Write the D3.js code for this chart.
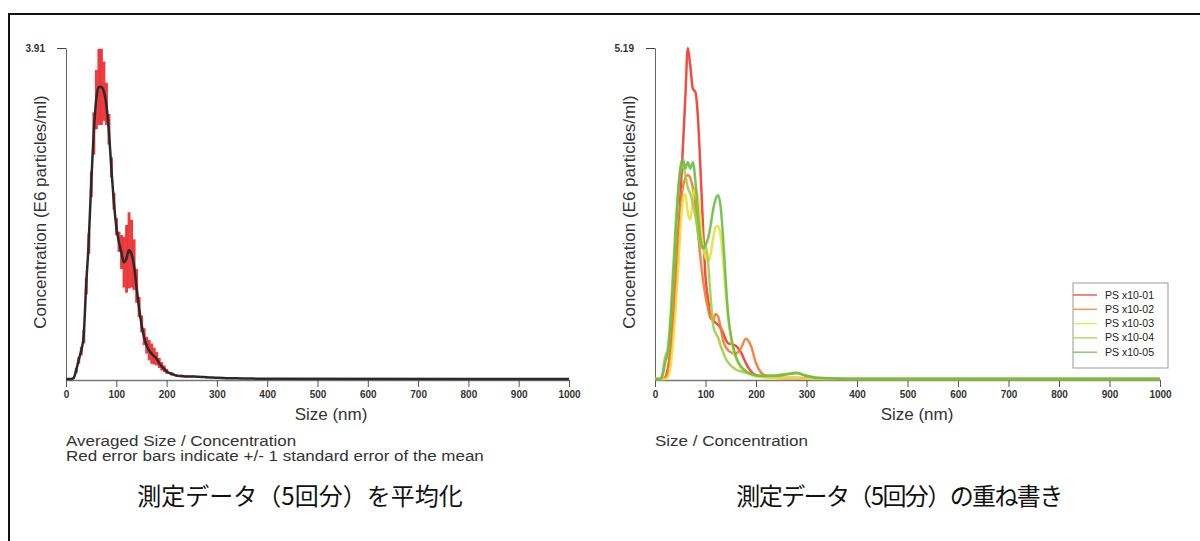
<!DOCTYPE html>
<html>
<head>
<meta charset="utf-8">
<script src="https://cdn.jsdelivr.net/npm/d3@7"></script>
<style>
  body { margin: 0; background: #fff; }
  svg { display: block; font-family: "Liberation Sans", Arial, sans-serif; }
</style>
</head>
<body>
<svg id="chart" width="1200" height="541"></svg>
<script>
// ---- data ----
// left: averaged concentration with standard error
const sizesAvg = [0,5,10,15,20,25,30,35,40,45,50,55,60,65,70,75,80,85,90,95,100,105,110,115,120,125,130,135,140,145,150,155,160,165,170,175,180,185,190,195,200,210,220,230,240,250,260,270,280,290,300,320,340,360,380,400,1000];
const meanConc = [0,0,0,0.01,0.1,0.22,0.33,0.5,1.1,1.6,2.3,2.9,3.3,3.45,3.45,3.4,3.25,2.95,2.5,2.1,1.8,1.62,1.5,1.38,1.42,1.52,1.48,1.35,1.1,0.85,0.65,0.5,0.4,0.34,0.3,0.27,0.24,0.19,0.15,0.12,0.09,0.06,0.04,0.035,0.03,0.03,0.027,0.025,0.02,0.018,0.015,0.01,0.008,0.006,0.004,0.002,0];
const stdErr = [0,0,0,0,0.03,0.04,0.05,0.08,0.1,0.12,0.15,0.25,0.35,0.45,0.45,0.35,0.25,0.18,0.12,0.1,0.1,0.12,0.2,0.3,0.4,0.45,0.4,0.3,0.2,0.12,0.1,0.1,0.1,0.12,0.12,0.1,0.08,0.06,0.05,0.04,0.03,0.02,0.015,0.015,0.012,0.012,0.01,0.01,0.01,0.008,0.006,0.004,0.004,0.003,0.002,0.002,0];
const maxAvg = 3.91;

// right: five individual measurements
const sizesRun = [0,10,15,20,25,30,35,40,45,50,55,60,65,70,75,80,85,90,95,100,105,110,115,120,125,130,135,140,145,150,155,160,170,180,190,200,210,220,230,240,260,280,300,320,350,400,1000];
const run01 = [0,0,0,0.02,0.15,0.4,0.8,1.3,2.0,2.8,3.6,4.4,5.19,4.9,4.55,4.5,4.1,3.3,2.4,1.6,1.25,1.0,0.92,0.88,0.85,0.8,0.72,0.62,0.56,0.55,0.54,0.52,0.42,0.25,0.12,0.06,0.04,0.03,0.02,0.02,0.01,0.01,0.005,0,0,0,0];
const run02 = [0,0,0,0.02,0.1,0.4,0.9,1.5,2.2,2.7,3.0,3.15,3.2,3.15,3.0,2.7,2.3,1.9,1.55,1.3,1.1,0.95,0.92,1.02,0.98,0.8,0.6,0.5,0.45,0.42,0.4,0.4,0.48,0.63,0.52,0.25,0.1,0.05,0.03,0.02,0.02,0.02,0.01,0.005,0,0,0];
const run03 = [0,0,0,0,0.02,0.15,0.5,1.0,1.6,2.3,2.8,2.9,2.6,2.5,2.85,3.0,2.85,2.5,2.1,1.9,1.85,1.95,2.2,2.38,2.4,2.25,1.85,1.35,0.95,0.65,0.45,0.32,0.18,0.1,0.06,0.04,0.03,0.02,0.02,0.015,0.01,0.01,0.005,0,0,0,0];
const run04 = [0,0,0.1,0.35,0.45,0.9,1.6,2.3,2.9,3.25,3.35,3.2,3.0,2.9,2.75,2.55,2.3,2.1,2.05,2.1,1.85,1.3,0.85,0.72,0.65,0.52,0.42,0.32,0.26,0.21,0.18,0.15,0.12,0.1,0.08,0.06,0.05,0.05,0.05,0.06,0.08,0.1,0.05,0.02,0.01,0,0];
const run05 = [0,0,0.05,0.25,0.4,0.8,1.4,2.1,2.8,3.3,3.45,3.3,3.4,3.3,3.4,3.1,2.6,2.2,2.05,2.1,2.2,2.4,2.65,2.82,2.88,2.7,2.2,1.55,1.0,0.7,0.5,0.36,0.2,0.12,0.08,0.06,0.05,0.05,0.05,0.05,0.07,0.09,0.05,0.02,0.01,0,0];
const runNames = ["PS x10-01","PS x10-02","PS x10-03","PS x10-04","PS x10-05"];
const runColors = ["#ee3a30","#f27a30","#e8e03a","#a3cf41","#6cbd48"];
const maxRun = 5.19;

const xTicks = [0,100,200,300,400,500,600,700,800,900,1000];

const svg = d3.select("#chart");

// outer frame (cut by the window on the right and bottom)
svg.append("rect")
    .attr("x", 9).attr("y", 14)
    .attr("width", 1200).attr("height", 600)
    .attr("fill", "none").attr("stroke", "#111").attr("stroke-width", 2);

function panel(left, right, ymax, ylabelX, sizeLabelX) {
  const x = d3.scaleLinear().domain([0, 1000]).range([left, right]);
  const y = d3.scaleLinear().domain([0, ymax]).range([379, 48]);
  const g = svg.append("g");

  g.append("g")
      .attr("transform", `translate(0,380)`)
      .call(d3.axisBottom(x).tickValues(xTicks).tickFormat(d3.format("d"))
          .tickSize(7).tickPadding(4).tickSizeOuter(0))
      .call(a => a.select(".domain").attr("stroke", "#777").attr("stroke-width", 1.5))
      .call(a => a.selectAll(".tick line").attr("stroke", "#555"))
      .call(a => a.selectAll("text")
          .attr("fill", "#333").attr("font-size", 10).attr("font-weight", "bold")
          .attr("font-family", "Liberation Sans, Arial, sans-serif"));

  g.append("g")
      .attr("transform", `translate(${left},0)`)
      .call(d3.axisLeft(y).tickValues([ymax]).tickFormat(d3.format(".2f")).tickSize(9).tickPadding(12).tickSizeOuter(0))
      .call(a => a.select(".domain").attr("stroke", "#666"))
      .call(a => a.selectAll(".tick line").attr("stroke", "#444"))
      .call(a => a.selectAll("text")
          .attr("fill", "#333").attr("font-size", 10).attr("font-weight", "bold")
          .attr("font-family", "Liberation Sans, Arial, sans-serif"));

  g.append("text")
      .attr("transform", `translate(${ylabelX},212) rotate(-90)`)
      .attr("text-anchor", "middle")
      .attr("font-size", 17).attr("fill", "#333")
      .text("Concentration (E6 particles/ml)");

  g.append("text")
      .attr("x", sizeLabelX).attr("y", 420)
      .attr("text-anchor", "middle")
      .attr("font-size", 17).attr("fill", "#333")
      .text("Size (nm)");

  return { x, y, g };
}

// ---- left panel ----
const L = panel(66, 569, maxAvg, 46, 331);
const barW = L.x(5) - L.x(0);
L.g.append("g")
  .selectAll("rect")
  .data(sizesAvg.map((s, i) => ({ s, m: meanConc[i], e: stdErr[i] })).filter(d => d.e > 0))
  .join("rect")
    .attr("x", d => L.x(d.s) - barW / 2)
    .attr("width", barW + 0.4)
    .attr("y", d => L.y(d.m + d.e))
    .attr("height", d => Math.max(1, L.y(d.m - d.e) - L.y(d.m + d.e)))
    .attr("fill", "#ec2a2e").attr("opacity", 0.92);

L.g.append("path")
    .datum(sizesAvg.map((s, i) => [s, meanConc[i]]))
    .attr("fill", "none").attr("stroke", "#2a2a2a").attr("stroke-width", 2.5)
    .attr("d", d3.line().x(d => L.x(d[0])).y(d => L.y(d[1])).curve(d3.curveMonotoneX));

// notes under the plots (slightly squeezed vertically, like the source)
const notes = svg.append("g").attr("transform", "translate(66,446) scale(1,0.88)");
notes.append("text").attr("x", 0).attr("y", 0).attr("font-size", 17).attr("fill", "#333")
    .text("Averaged Size / Concentration");
notes.append("text").attr("x", 0).attr("y", 17).attr("font-size", 17).attr("fill", "#333")
    .text("Red error bars indicate +/- 1 standard error of the mean");

// ---- right panel ----
const R = panel(655, 1160, maxRun, 635, 917);
const runs = [run01, run02, run03, run04, run05];
const lineR = d3.line().x(d => R.x(d[0])).y(d => R.y(d[1])).curve(d3.curveMonotoneX);
runs.forEach((vals, k) => {
  R.g.append("path")
      .datum(sizesRun.map((s, i) => [s, vals[i]]))
      .attr("fill", "none").attr("stroke", runColors[k]).attr("stroke-width", 2.5)
      .attr("stroke-opacity", 0.9)
      .attr("d", lineR);
});

const leg = svg.append("g").attr("transform", "translate(1073,283)");
leg.append("rect").attr("width", 95).attr("height", 85)
    .attr("fill", "#fff").attr("stroke", "#999");
runNames.forEach((n, k) => {
  const yy = 12 + k * 14.3;
  leg.append("line").attr("x1", 0).attr("x2", 24).attr("y1", yy).attr("y2", yy)
      .attr("stroke", runColors[k]).attr("stroke-width", 1.5).attr("stroke-opacity", 0.8);
  leg.append("text").attr("x", 32).attr("y", yy + 3.5)
      .attr("font-size", 10.5).attr("fill", "#222").text(n);
});

svg.append("g").attr("transform", "translate(655,446) scale(1,0.88)")
  .append("text").attr("font-size", 17).attr("fill", "#333")
    .text("Size / Concentration");

// captions
svg.append("text").attr("x", 300).attr("y", 505).attr("text-anchor", "middle")
    .attr("font-family", "Noto Sans CJK JP").attr("font-size", 24).attr("fill", "#111")
    .text("測定データ（5回分）を平均化");
svg.append("text").attr("x", 899).attr("y", 505).attr("text-anchor", "middle")
    .attr("font-family", "Noto Sans CJK JP").attr("font-size", 24).attr("fill", "#111")
    .attr("letter-spacing", -1.6)
    .text("測定データ（5回分）の重ね書き");
</script>
</body>
</html>
